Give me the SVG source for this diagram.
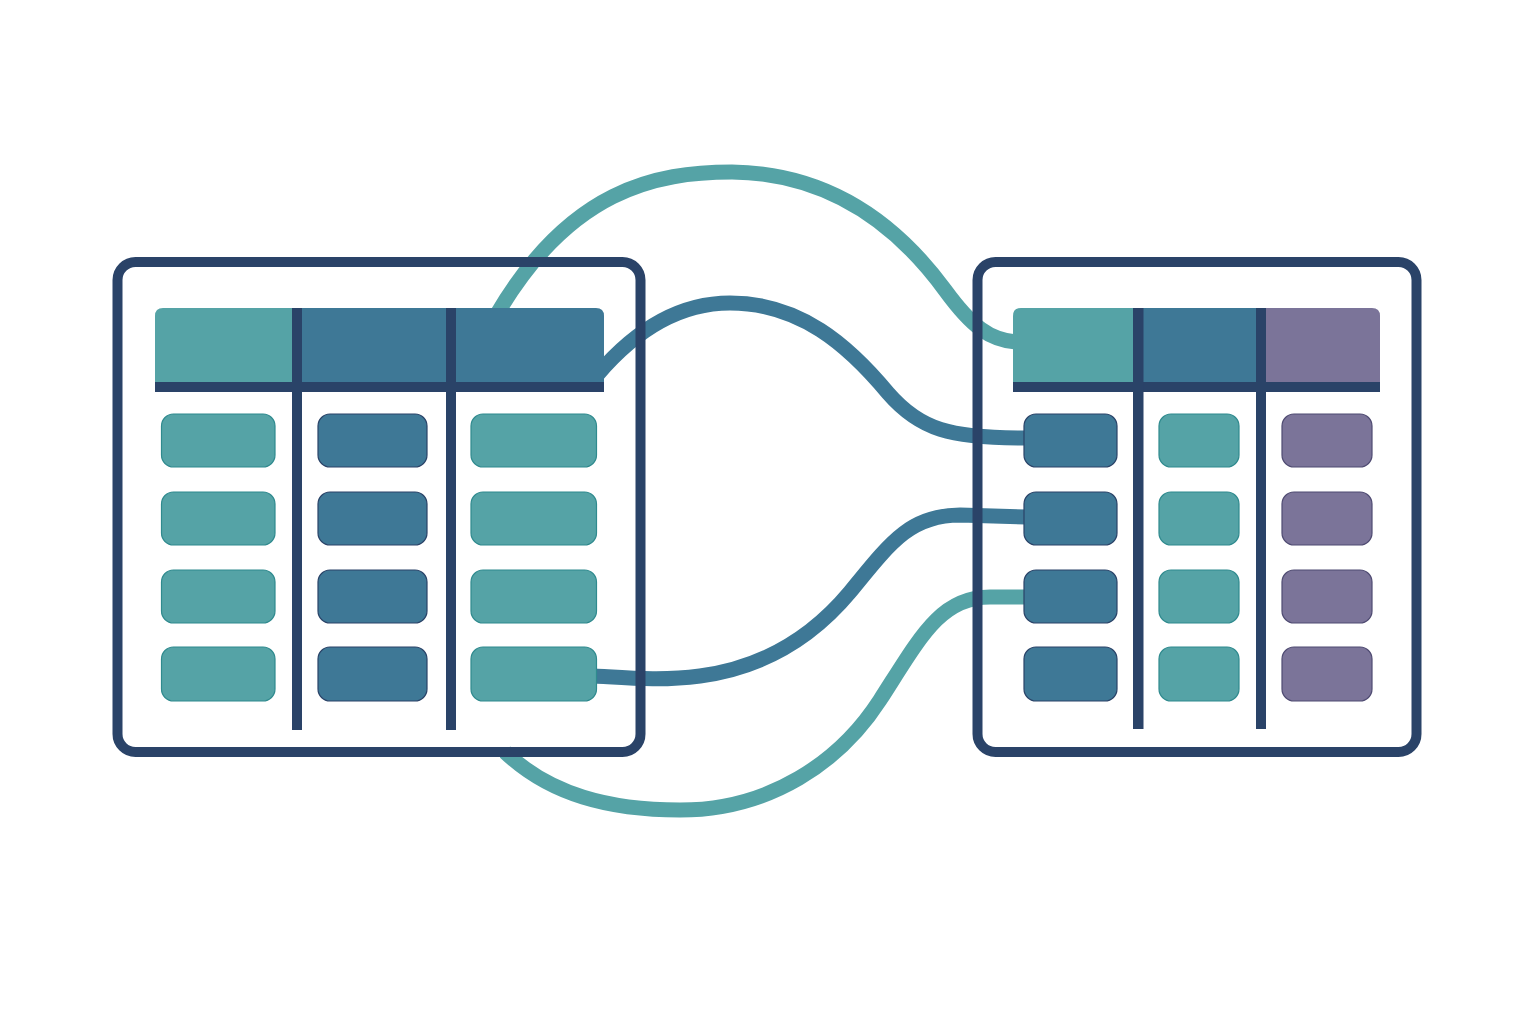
<svg xmlns="http://www.w3.org/2000/svg" width="1536" height="1024" viewBox="0 0 1536 1024">
<style>
.frame{fill:none;stroke:#2A4368;stroke-width:10}
.bg{fill:#ffffff}
.navy{fill:#2A4368}
.t{fill:#55A3A6;stroke:#2F8A8E;stroke-width:1.2}
.b{fill:#3E7896;stroke:#2A4368;stroke-width:1.2}
.p{fill:#7B7499;stroke:#4F4B72;stroke-width:1.2}
.ht{fill:#55A3A6}
.hb{fill:#3E7896}
.hp{fill:#7B7499}
.ct{fill:none;stroke:#55A3A6;stroke-width:15;stroke-linecap:butt}
.cb{fill:none;stroke:#3E7896;stroke-width:15;stroke-linecap:butt}
</style>
<rect width="1536" height="1024" fill="#ffffff"/>
<rect class="bg" x="117.5" y="262" width="523" height="490" rx="18"/>
<rect class="bg" x="977.5" y="262" width="439" height="490" rx="18"/>
<g id="connectors">
<path class="ct" d="M 497 314 C 570 190, 655 172, 732 172 C 820 173, 890 215, 945 290 C 972 327, 990 340, 1016 342"/>
<path class="cb" d="M 598 374 C 640 325, 685 303, 730 303 C 800 303, 848 345, 888 393 C 920 430, 950 438, 1026 438"/>
<path class="cb" d="M 595 676 C 630 678, 662 681, 700 676 C 760 668, 810 640, 850 592 C 890 543, 910 515, 960 515 L 1026 517"/>
<path class="ct" d="M 505 752 C 550 795, 610 810, 680 810 C 770 810, 840 762, 880 700 C 920 638, 940 597, 990 597 L 1026 597"/>
</g>
<g id="left-table">
<rect class="frame" x="117.5" y="262" width="523" height="490" rx="18"/>
<path class="ht" d="M 155 382 L 155 316 Q 155 308 163 308 L 292 308 L 292 382 Z"/>
<rect class="hb" x="292" y="308" width="154" height="74"/>
<path class="hb" d="M 446 308 L 596 308 Q 604 308 604 316 L 604 382 L 446 382 Z"/>
<rect class="navy" x="155" y="382" width="449" height="10"/>
<rect class="navy" x="292" y="308" width="10" height="422"/>
<rect class="navy" x="446" y="308" width="10" height="422"/>
<rect class="t" x="161.5" y="414" width="113.5" height="53" rx="12"/>
<rect class="t" x="161.5" y="492" width="113.5" height="53" rx="12"/>
<rect class="t" x="161.5" y="570" width="113.5" height="53" rx="12"/>
<rect class="t" x="161.5" y="647" width="113.5" height="54" rx="12"/>
<rect class="b" x="318" y="414" width="109" height="53" rx="12"/>
<rect class="b" x="318" y="492" width="109" height="53" rx="12"/>
<rect class="b" x="318" y="570" width="109" height="53" rx="12"/>
<rect class="b" x="318" y="647" width="109" height="54" rx="12"/>
<rect class="t" x="471" y="414" width="125.5" height="53" rx="12"/>
<rect class="t" x="471" y="492" width="125.5" height="53" rx="12"/>
<rect class="t" x="471" y="570" width="125.5" height="53" rx="12"/>
<rect class="t" x="471" y="647" width="125.5" height="54" rx="12"/>
</g>
<g id="right-table">
<rect class="frame" x="977.5" y="262" width="439" height="490" rx="18"/>
<path class="ht" d="M 1013 382 L 1013 316 Q 1013 308 1021 308 L 1133 308 L 1133 382 Z"/>
<rect class="hb" x="1133" y="308" width="123" height="74"/>
<path class="hp" d="M 1256 308 L 1372 308 Q 1380 308 1380 316 L 1380 382 L 1256 382 Z"/>
<rect class="navy" x="1013" y="382" width="367" height="10"/>
<rect class="navy" x="1133" y="308" width="10.5" height="421"/>
<rect class="navy" x="1256" y="308" width="10" height="421"/>
<rect class="b" x="1024" y="414" width="93" height="53" rx="12"/>
<rect class="b" x="1024" y="492" width="93" height="53" rx="12"/>
<rect class="b" x="1024" y="570" width="93" height="53" rx="12"/>
<rect class="b" x="1024" y="647" width="93" height="54" rx="12"/>
<rect class="t" x="1159" y="414" width="80" height="53" rx="12"/>
<rect class="t" x="1159" y="492" width="80" height="53" rx="12"/>
<rect class="t" x="1159" y="570" width="80" height="53" rx="12"/>
<rect class="t" x="1159" y="647" width="80" height="54" rx="12"/>
<rect class="p" x="1282" y="414" width="90" height="53" rx="12"/>
<rect class="p" x="1282" y="492" width="90" height="53" rx="12"/>
<rect class="p" x="1282" y="570" width="90" height="53" rx="12"/>
<rect class="p" x="1282" y="647" width="90" height="54" rx="12"/>
</g>
</svg>
